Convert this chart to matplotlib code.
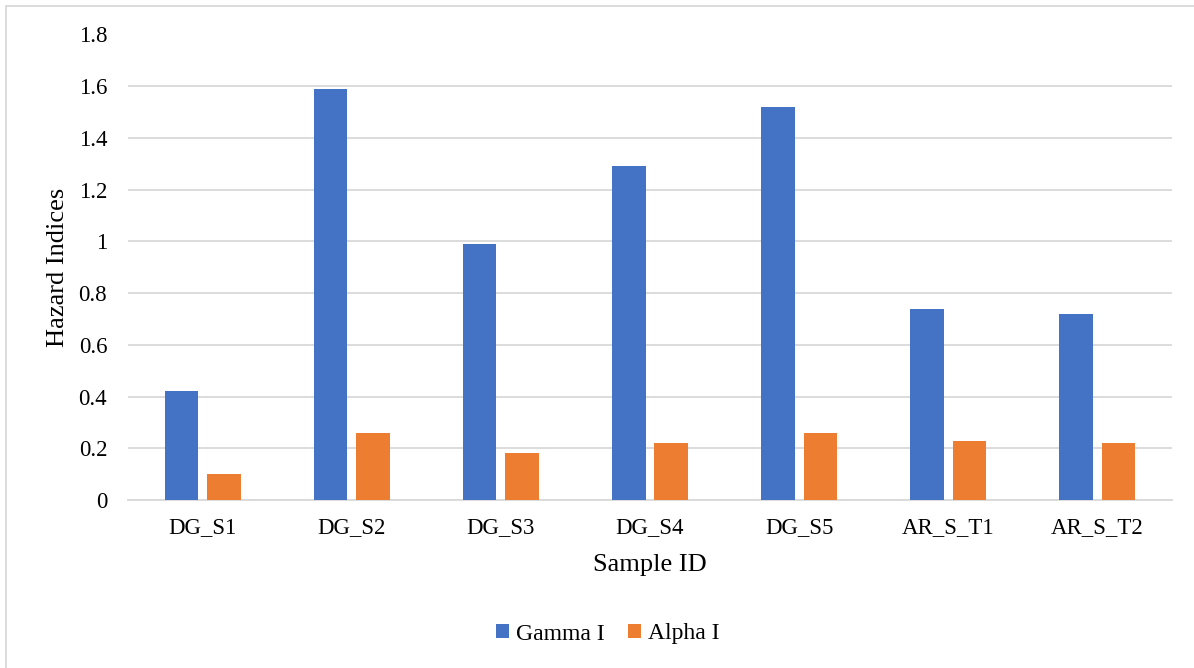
import matplotlib
matplotlib.use("Agg")
import matplotlib.pyplot as plt
from matplotlib.patches import Rectangle
import numpy as np

# Data
samples = ["DG_S1", "DG_S2", "DG_S3", "DG_S4", "DG_S5", "AR_S_T1", "AR_S_T2"]
gamma_i = [0.42, 1.59, 0.99, 1.29, 1.52, 0.74, 0.72]
alpha_i = [0.10, 0.26, 0.18, 0.22, 0.26, 0.23, 0.22]
series_names = ["Gamma I", "Alpha I"]
y_ticks = [0, 0.2, 0.4, 0.6, 0.8, 1, 1.2, 1.4, 1.6, 1.8]
y_tick_labels = ["0", "0.2", "0.4", "0.6", "0.8", "1", "1.2", "1.4", "1.6", "1.8"]

plt.rcParams["font.family"] = ["Liberation Serif", "DejaVu Serif"]

W, H = 1194, 668
fig = plt.figure(figsize=(W / 100, H / 100), dpi=100)

# Chart-area border
fig.patches.append(Rectangle((5.5 / W, -0.01), 1.1, 1 - 5.5 / H + 0.01,
                             transform=fig.transFigure, fill=False,
                             edgecolor="#d9d9d9", linewidth=1.3))

left, right, top, bottom = 128, 1172, 34.5, 500
ax = fig.add_axes([left / W, 1 - bottom / H, (right - left) / W, (bottom - top) / H])

x = np.arange(len(samples))
bw = 0.225
off = 0.142
blue = "#4472c4"
orange = "#ed7d31"
ax.bar(x - off, gamma_i, width=bw, color=blue, label=series_names[0], zorder=3)
ax.bar(x + off, alpha_i, width=bw, color=orange, label=series_names[1], zorder=3)

ax.set_xlim(-0.5, len(samples) - 0.5)
ax.set_ylim(0, 1.8)
ax.set_yticks(y_ticks)
ax.set_yticklabels(y_tick_labels)
ax.set_xticks(x)
ax.set_xticklabels(samples)
ax.yaxis.grid(True, color="#d9d9d9", linewidth=1.3, zorder=0)
ax.set_axisbelow(True)
for s in ["top", "right", "left"]:
    ax.spines[s].set_visible(False)
ax.spines["bottom"].set_color("#d9d9d9")
ax.spines["bottom"].set_linewidth(1.3)
ax.tick_params(axis="both", length=0, labelsize=16.5, colors="black")
ax.tick_params(axis="y", pad=15)
ax.tick_params(axis="x", pad=12)

ax.set_xlabel("Sample ID", fontsize=19)
ax.set_ylabel("Hazard Indices", fontsize=19)
ax.xaxis.set_label_coords(0.5, -0.116)
ax.yaxis.set_label_coords(-0.0565, 0.5)

leg = fig.legend(loc="center", bbox_to_anchor=(608 / W, 1 - 634 / H), ncol=2,
                 frameon=False, fontsize=17, handlelength=0.55, handleheight=0.55,
                 handletextpad=0.3, columnspacing=1.0)

fig.savefig("out.png", dpi=100, facecolor="white")
